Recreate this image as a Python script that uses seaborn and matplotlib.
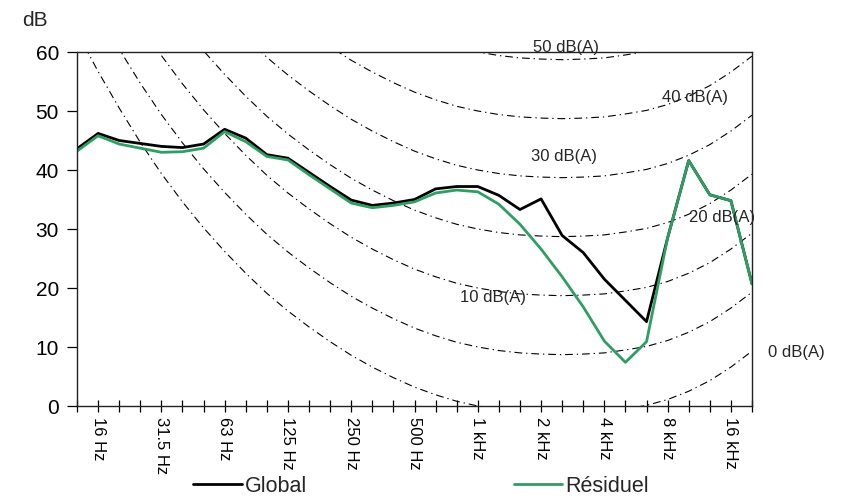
import numpy as np
import pandas as pd
import matplotlib
matplotlib.use("Agg")
import matplotlib.pyplot as plt
import seaborn as sns

# Third-octave bands 12.5 Hz .. 20 kHz
bands = ["12.5 Hz", "16 Hz", "20 Hz", "25 Hz", "31.5 Hz", "40 Hz", "50 Hz", "63 Hz",
         "80 Hz", "100 Hz", "125 Hz", "160 Hz", "200 Hz", "250 Hz", "315 Hz", "400 Hz",
         "500 Hz", "630 Hz", "800 Hz", "1 kHz", "1.25 kHz", "1.6 kHz", "2 kHz", "2.5 kHz",
         "3.15 kHz", "4 kHz", "5 kHz", "6.3 kHz", "8 kHz", "10 kHz", "12.5 kHz", "16 kHz",
         "20 kHz"]
tick_labels = ["16 Hz", "31.5 Hz", "63 Hz", "125 Hz", "250 Hz", "500 Hz",
               "1 kHz", "2 kHz", "4 kHz", "8 kHz", "16 kHz"]

global_db = [43.6, 46.2, 45.0, 44.5, 44.0, 43.8, 44.4, 46.9, 45.4, 42.6, 42.0,
             39.6, 37.2, 34.9, 34.0, 34.4, 35.0, 36.8, 37.2, 37.2, 35.7, 33.3,
             35.1, 28.9, 26.0, 21.5, 17.9, 14.3, 28.5, 41.6, 35.8, 34.8, 20.7]
residuel_db = [43.2, 45.8, 44.4, 43.7, 43.0, 43.1, 43.7, 46.5, 44.8, 42.3, 41.7,
               39.2, 36.8, 34.4, 33.6, 34.0, 34.6, 36.1, 36.6, 36.3, 34.2, 30.8,
               26.6, 21.9, 16.8, 11.0, 7.4, 10.9, 28.5, 41.6, 35.8, 34.8, 20.7]

# Standard A-weighting corrections per third-octave band (dB)
a_weight = [-63.4, -56.7, -50.5, -44.7, -39.4, -34.6, -30.2, -26.2, -22.5, -19.1,
            -16.1, -13.4, -10.9, -8.6, -6.6, -4.8, -3.2, -1.9, -0.8, 0.0, 0.6,
            1.0, 1.2, 1.3, 1.2, 1.0, 0.5, -0.1, -1.1, -2.5, -4.3, -6.6, -9.3]
curve_offsets = [0, 10, 20, 30, 40, 50, 60]

curve_labels = ["50 dB(A)", "40 dB(A)", "30 dB(A)", "20 dB(A)", "10 dB(A)", "0 dB(A)"]
curve_label_x = [23.2, 29.3, 23.1, 30.6, 19.7, 34.1]
curve_label_y = [61.0, 52.5, 42.4, 32.2, 18.6, 9.3]

sns.set_style("ticks")
plt.rcParams["font.family"] = ["Liberation Sans", "DejaVu Sans"]

fig = plt.figure(figsize=(8.48, 5.02), dpi=100)
ax = fig.add_axes([77 / 848, 1 - 407 / 502, (752 - 77) / 848, (407 - 53) / 502])

idx = np.arange(len(bands))

# iso dB(A) curves
for c in curve_offsets:
    lev = [c - a for a in a_weight]
    sns.lineplot(x=idx, y=lev, ax=ax, color="black", linewidth=0.8,
                 linestyle=(0, (7, 3.5, 1.2, 3.5)), legend=False)

df = pd.DataFrame({"x": np.concatenate([idx, idx]),
                   "y": global_db + residuel_db,
                   "serie": ["Global"] * len(idx) + ["Résiduel"] * len(idx)})
sns.lineplot(data=df, x="x", y="y", hue="serie",
             palette={"Global": "black", "Résiduel": "#2f9e63"},
             linewidth=2.0, ax=ax, legend=True)

for t, x, y in zip(curve_labels, curve_label_x, curve_label_y):
    ax.text(x, y, t, ha="center", va="center", fontsize=12, clip_on=False)

ax.set_xlim(0, len(bands) - 1)
ax.set_ylim(0, 60)
ax.set_yticks(range(0, 61, 10))
ax.set_xticks(idx)
ax.set_xticklabels([b if b in tick_labels else "" for b in bands],
                   rotation=270, fontsize=12)
ax.tick_params(axis="x", direction="inout", length=8, width=0.9, pad=3, colors="black")
ax.tick_params(axis="y", direction="out", length=7, width=0.9, pad=6,
               labelsize=15, colors="black")
ax.set_xlabel("")
ax.set_ylabel("")
for s in ax.spines.values():
    s.set_visible(True)
    s.set_color("#222222")
    s.set_linewidth(1.0)

fig.text(22 / 848, 1 - 21 / 502, "dB", fontsize=15, va="center", ha="left")

h, l = ax.get_legend_handles_labels()
ax.legend(h, l, loc="center", bbox_to_anchor=(0.4965, 0.03), bbox_transform=fig.transFigure,
          ncol=2, frameon=False, fontsize=15.5, handlelength=2.25, columnspacing=9.6,
          handletextpad=0.15)

fig.savefig("out.png", dpi=100)
